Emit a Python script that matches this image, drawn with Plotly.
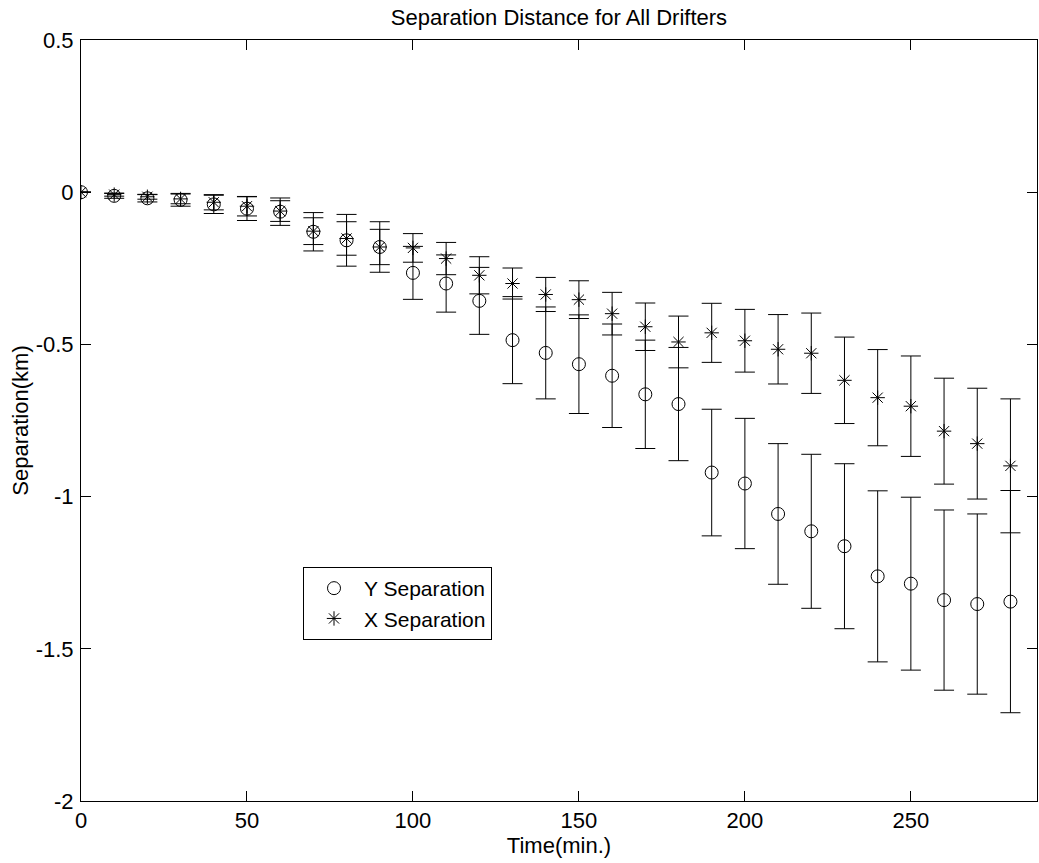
import plotly.graph_objects as go

# ---- data ----
time_min = [0, 10, 20, 30, 40, 50, 60, 70, 80, 90, 100, 110, 120, 130, 140,
            150, 160, 170, 180, 190, 200, 210, 220, 230, 240, 250, 260, 270, 280]

y_sep = [0, -0.012, -0.020, -0.025, -0.040, -0.054, -0.064, -0.130, -0.158,
         -0.180, -0.265, -0.300, -0.357, -0.486, -0.528, -0.565, -0.603, -0.664,
         -0.696, -0.921, -0.957, -1.057, -1.114, -1.163, -1.262, -1.286, -1.340,
         -1.353, -1.345]
y_err = [0, 0.008, 0.012, 0.021, 0.030, 0.039, 0.045, 0.063, 0.085, 0.083,
         0.087, 0.094, 0.110, 0.143, 0.151, 0.162, 0.170, 0.178, 0.186, 0.208,
         0.214, 0.231, 0.253, 0.271, 0.281, 0.284, 0.296, 0.296, 0.365]

x_sep = [0, -0.008, -0.015, -0.022, -0.033, -0.046, -0.062, -0.128, -0.152,
         -0.180, -0.183, -0.218, -0.273, -0.300, -0.336, -0.353, -0.399, -0.442,
         -0.492, -0.462, -0.488, -0.516, -0.529, -0.618, -0.675, -0.703, -0.785,
         -0.826, -0.899]
x_err = [0, 0.005, 0.008, 0.016, 0.025, 0.032, 0.034, 0.044, 0.055, 0.058,
         0.047, 0.053, 0.061, 0.051, 0.056, 0.062, 0.070, 0.078, 0.085, 0.097,
         0.103, 0.114, 0.132, 0.142, 0.158, 0.165, 0.174, 0.182, 0.220]

x_tick_vals = [0, 50, 100, 150, 200, 250]
x_tick_text = ["0", "50", "100", "150", "200", "250"]
y_tick_vals = [0.5, 0, -0.5, -1, -1.5, -2]
y_tick_text = ["0.5", "0", "-0.5", "-1", "-1.5", "-2"]

FONT = "Liberation Sans, Arial, sans-serif"

fig = go.Figure()
fig.add_trace(go.Scatter(
    x=time_min, y=y_sep, mode="markers", name="Y Separation",
    marker=dict(symbol="circle-open", size=13, color="black",
                line=dict(width=1, color="black")),
    error_y=dict(type="data", array=y_err, symmetric=True, color="black",
                 thickness=1, width=10),
))
fig.add_trace(go.Scatter(
    x=time_min, y=x_sep, mode="markers", name="X Separation",
    marker=dict(symbol="asterisk-open", size=12, color="black",
                line=dict(width=1, color="black")),
    error_y=dict(type="data", array=x_err, symmetric=True, color="black",
                 thickness=1, width=10),
))

fig.update_layout(
    width=1039, height=863,
    margin=dict(l=81, r=2, t=40, b=62, pad=0),
    paper_bgcolor="white", plot_bgcolor="white",
    font=dict(family=FONT, size=22, color="black"),
    title=dict(text="Separation Distance for All Drifters", x=0.5, xref="paper",
               y=1 - 17 / 863, yref="container", xanchor="center", yanchor="middle",
               font=dict(family=FONT, size=22, color="black")),
    showlegend=True,
    legend=dict(x=(303 - 81) / 956, y=(801 - 567) / 761, xanchor="left", yanchor="top",
                bordercolor="black", borderwidth=1, bgcolor="white",
                font=dict(family=FONT, size=21, color="black"),
                itemwidth=50, tracegroupgap=0),
)
fig.update_xaxes(
    range=[0, 288], tickvals=x_tick_vals, ticktext=x_tick_text,
    showline=True, linecolor="black", linewidth=1, mirror="allticks",
    ticks="inside", ticklen=10, tickwidth=1, tickcolor="black",
    showgrid=False, zeroline=False,
    title=dict(text="Time(min.)", font=dict(family=FONT, size=22), standoff=4),
)
fig.update_yaxes(
    range=[-2, 0.5], tickvals=y_tick_vals, ticktext=y_tick_text,
    showline=True, linecolor="black", linewidth=1, mirror="allticks",
    ticks="inside", ticklen=10, tickwidth=1, tickcolor="black",
    showgrid=False, zeroline=False, ticklabelstandoff=2,
    title=dict(text="Separation(km)", font=dict(family=FONT, size=22), standoff=0),
)

fig.write_html("out.html")
